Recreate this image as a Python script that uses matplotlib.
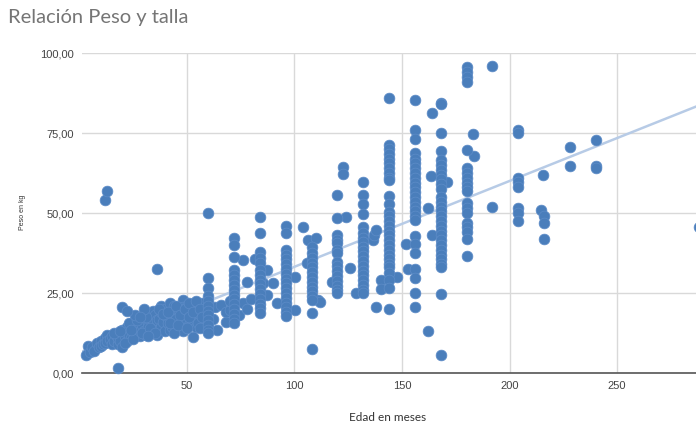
import matplotlib.pyplot as plt
import numpy as np

# menores de 5 años (nube densa)
edad_menores = [3, 4, 5, 6, 7, 8, 9, 10, 10, 11, 12, 12, 13, 13, 14, 15, 15, 16, 17, 18,
                18, 19, 20, 20, 21, 22, 22, 23, 24, 24, 25, 26, 26, 27, 28, 28, 29, 30, 30, 31,
                32, 32, 33, 34, 34, 34, 35, 36, 36, 36, 37, 38, 38, 38, 39, 40, 40, 40, 41, 42,
                42, 42, 43, 44, 44, 45, 46, 46, 47, 48, 48, 48, 48, 48, 49, 50, 50, 51, 52, 52,
                53, 53, 54, 54, 55, 56, 57, 58, 58, 59,
                16, 19, 21, 23, 25, 27, 29, 31, 33, 35, 37, 39, 41, 43, 45, 45, 47, 49, 51, 51,
                53, 55, 57, 59, 44, 30, 26, 24, 28, 32, 42, 46, 50, 54, 56]
peso_menores = [5.6, 8.5, 6.5, 8, 7, 9.5, 8, 10, 8.5, 9, 11, 9.5, 12, 10, 10.5, 11.5, 9, 10, 12, 9,
                11, 10, 13.5, 8, 11.5, 10, 14.5, 12, 15.5, 11, 13, 12, 16, 14, 13, 11.5, 15, 17.5, 13, 12,
                16, 14.5, 17, 13, 15.5, 19.5, 18, 14, 16.5, 12, 17, 19, 14.5, 21, 16, 13, 18, 20, 15.5, 17.5,
                13.5, 22, 19, 16, 21, 14, 18, 20, 15.5, 13, 17, 19, 22.8, 20.7, 16, 21, 18.5, 15, 19.5, 17,
                21.5, 16, 18, 14.5, 20, 17, 19, 16.5, 21.5, 18,
                12.5, 13, 9.5, 15.5, 10.5, 16.5, 12.5, 17.5, 14, 12.5, 20, 18.5, 19, 14.5, 17, 21, 18, 20, 22, 17.5,
                19, 15.5, 22, 15, 12.5, 20, 18, 13.5, 17.5, 11.5, 15.5, 15, 14, 22.5, 20]

# columnas por edad cumplida (meses)
peso_60 = [49.9, 29.6, 26.5, 24, 22.5, 21, 19.5, 18, 16.5, 15, 13.5, 12.5]
peso_72 = [42.1, 40, 36.3, 32.2, 30.6, 29.1, 27.5, 26, 24.5, 23, 21.5, 20, 18.5, 17, 15.6]
peso_84 = [48.9, 43.7, 37.9, 35.8, 34.3, 32.2, 30.7, 29.2, 27.7, 26.2, 24.7, 23.2, 21.7, 20.2, 18.8]
peso_96 = [46, 43.7, 38.4, 37, 35.5, 34, 32.5, 31, 29.5, 28, 26.5, 25, 23.5, 22, 20.5, 19, 17.8]
peso_108 = [39.5, 37.5, 36, 34.5, 33, 31.7, 30, 28.5, 27, 25.5, 24, 22.8, 18.6, 7.5]
peso_120 = [55.6, 48.3, 43.1, 41.6, 40.5, 38.4, 37.4, 34.8, 33.3, 31.8, 30.3, 28.8, 27.3, 25.8, 24.9]
peso_132 = [59.8, 55.6, 52.8, 49.6, 45.7, 43.7, 42.3, 41, 39.5, 38, 36.5, 35, 33.5, 32, 30.5,
            29, 27.5, 26, 25]
peso_144 = [85.9, 71.2, 70, 68.5, 67, 65.5, 64, 62.5, 61, 60.3, 55.3, 52.8, 50.4, 49, 47.5, 46,
            44.5, 43, 41.5, 40, 38.5, 37, 35.5, 34, 33.2, 31.2, 29.1, 26.5, 19.9]
peso_156 = [85.3, 75.9, 73, 68.6, 67, 65.5, 64, 62.5, 61, 59.5, 58, 56.5, 55, 53.5, 52, 50.5, 49,
            47.8, 42.9, 40.2, 37.6, 32.4, 29.8, 24.9, 20.7]
peso_168 = [84.5, 84, 74.9, 69.4, 66.6, 65, 63.5, 62, 60.5, 59, 57.5, 55, 53.5, 52, 50.5, 49,
            47.5, 46, 44.5, 43, 41.5, 40, 38.5, 37, 35.5, 34, 33.2, 24.6, 5.6]
peso_180 = [95.6, 94, 92.5, 91, 69.7, 64, 62.5, 61, 59.5, 58, 57, 53, 51.5, 50, 47, 45.5, 44, 42, 36.6]
peso_192 = [95.8, 52]
peso_204 = [76, 75, 60.8, 59.8, 58.2, 51.5, 49.9, 47.6]
peso_216 = [49, 46.8, 41.8]
peso_228 = [70.7, 64.8]
peso_240 = [72.8, 64.8, 64]
peso_288 = [45.5]

# puntos sueltos entre columnas
edad_sueltos = [12, 13, 18, 20, 22, 36, 53, 56, 57, 62, 63, 64, 66, 68, 68, 70, 70,
                74, 76, 76, 78, 78, 80, 81.6, 85.5, 87, 87, 90, 92, 100.2, 100.2, 104,
                106.4, 110, 106, 111, 112, 117.3, 122.7, 122.7, 124, 125.8, 128.6,
                136.5, 137, 138, 138, 140, 140, 147.5, 152, 153, 162, 162,
                164, 163.5, 171, 164, 183, 183.5, 214.7, 215.7]
peso_sueltos = [54, 57, 1.5, 20.5, 19.5, 32.5, 11.3, 14, 17.5, 17, 20.5, 13.4, 21.2, 16, 19, 19.7, 22.5,
                18, 35.3, 22, 28.5, 20, 23, 35.5, 28, 32.2, 24.4, 28.2, 22, 30, 19.7, 45.7,
                41.6, 42.1, 34.5, 22.8, 22.3, 28.5, 64.3, 62.2, 48.8, 32.7, 25.1,
                41.6, 43.1, 44.7, 20.7, 29, 26.2, 29.9, 40.2, 32.4, 51.7, 13.2,
                81.1, 61.6, 59.8, 43.1, 74.7, 67.8, 51, 61.9]

columnas = {60: peso_60, 72: peso_72, 84: peso_84, 96: peso_96, 108: peso_108,
            120: peso_120, 132: peso_132, 144: peso_144, 156: peso_156, 168: peso_168,
            180: peso_180, 192: peso_192, 204: peso_204, 216: peso_216, 228: peso_228,
            240: peso_240, 288: peso_288}

edad = list(edad_menores) + list(edad_sueltos)
peso = list(peso_menores) + list(peso_sueltos)
for m, valores in columnas.items():
    edad += [m] * len(valores)
    peso += valores
edad = np.array(edad, dtype=float)
peso = np.array(peso, dtype=float)

fig = plt.figure(figsize=(6.96, 4.23), dpi=100)
ax = fig.add_axes([82 / 696, 50 / 423, 614 / 696, 320 / 423])

xmin, xmax = 1.2, 286.7
ax.set_xlim(xmin, xmax)
ax.set_ylim(0, 100)

ax.scatter(edad, peso, s=60, color='#4a7ebb', edgecolors='#5d8cc8', linewidths=0.5,
           zorder=3, clip_on=False)

# linea de tendencia (minimos cuadrados)
m, b = np.polyfit(edad, peso, 1)
xs = np.array([xmin, xmax])
ax.plot(xs, m * xs + b, color='#b7cbe6', lw=1.8, zorder=2)

ax.set_xticks([50, 100, 150, 200, 250])
ax.set_yticks([0, 25, 50, 75, 100])
ax.set_yticklabels(['0,00', '25,00', '50,00', '75,00', '100,00'])
ax.grid(True, color='#d9d9d9', lw=1, zorder=0)
ax.set_axisbelow(True)
ax.tick_params(length=0, labelsize=8, labelcolor='#444444', pad=6)
for lab in ax.get_xticklabels() + ax.get_yticklabels():
    lab.set_family('Liberation Sans')
for s in ['top', 'right', 'left']:
    ax.spines[s].set_visible(False)
ax.spines['bottom'].set_color('#555555')
ax.spines['bottom'].set_linewidth(1.2)

fig.text(8 / 696, 1 - 18 / 423, 'Relación Peso y talla', fontsize=14.5, color='#757575',
         family='Lato', va='center', ha='left')
fig.text(388 / 696, 1 - 417 / 423, 'Edad en meses', fontsize=8.5, color='#333333',
         family='Lato', ha='center', va='center')
fig.text(22 / 696, 1 - 212 / 423, 'Peso en kg', fontsize=5, color='#333333',
         family='Liberation Sans', rotation=90, ha='center', va='center')

fig.savefig('out.png', dpi=100)
